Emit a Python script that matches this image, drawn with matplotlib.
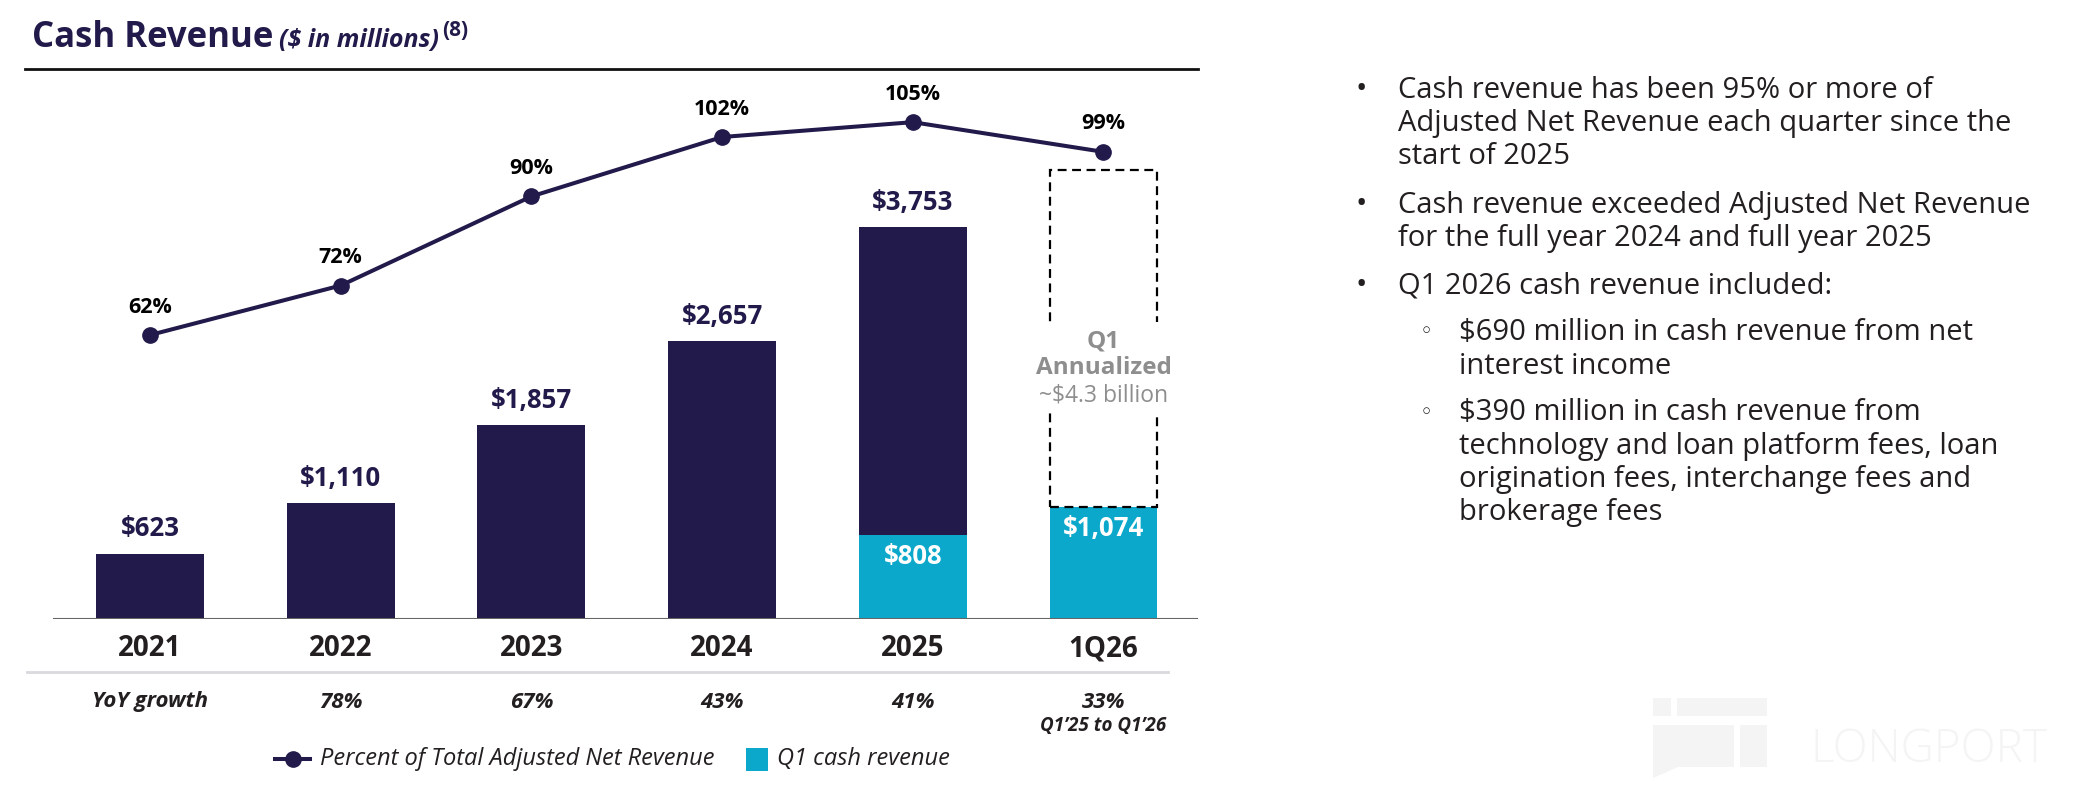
import matplotlib
matplotlib.use('Agg')
import matplotlib.pyplot as plt
from matplotlib.patches import Rectangle, Polygon
from matplotlib.lines import Line2D

plt.rcParams['font.family'] = ['Open Sans', 'DejaVu Sans']

# data
labels = ['2021', '2022', '2023', '2024', '2025', '1Q26']
cash_revenue = [623, 1110, 1857, 2657, 3753]          # full year bars
q1_cash = {4: 808, 5: 1074}                            # cyan part (2025, 1Q26)
q1_annualized = 4296                                   # dashed box top for 1Q26
pct_adj_rev = [62, 72, 90, 102, 105, 99]
yoy_growth = ['YoY growth', '78%', '67%', '43%', '41%', '33%']

navy = '#211A4A'
cyan = '#0BA8CB'
dark = '#231F20'
grey = '#8E8E8E'

W, H = 2084, 794
fig = plt.figure(figsize=(W / 100, H / 100), dpi=100)

def fx(px):
    return px / W

def fy(py):
    return 1 - py / H

# bar axes: baseline at y=619px, top at 69px
ax = fig.add_axes([fx(53), fy(619), fx(1198) - fx(53), fy(69) - fy(619)])
ax.set_xlim(-0.5087, 5.4956)
ax.set_ylim(0, 5266)
ax.axis('off')

x = list(range(len(labels)))
bw = 0.566

for i, v in enumerate(cash_revenue):
    ax.bar(i, v, width=bw, color=navy, zorder=2)
    ax.annotate(f'${v:,}', (i, v), xytext=(0, 25), textcoords='offset pixels',
                ha='center', va='center', fontsize=18.5, fontweight='bold', color=navy)

for i, v in q1_cash.items():
    ax.bar(i, v, width=bw, color=cyan, zorder=3)
    ax.annotate(f'${v:,}', (i, v), xytext=(0, -22), textcoords='offset pixels',
                ha='center', va='center', fontsize=18.5, fontweight='bold', color='white',
                zorder=5)

# dashed annualized box
ax.bar(5, q1_annualized - q1_cash[5], bottom=q1_cash[5], width=bw, fill=False,
       edgecolor='black', linewidth=1.6, linestyle=(0, (4, 2.5)), zorder=4)
ax.add_patch(Rectangle((5 - 0.33, 1982), 0.66, 861, facecolor='white',
                       edgecolor='none', zorder=4.5))
ax.text(5, 2660, 'Q1', ha='center', va='center', fontsize=17.5, fontweight='bold',
        color=grey, zorder=6)
ax.text(5, 2405, 'Annualized', ha='center', va='center', fontsize=17.5,
        fontweight='bold', color=grey, zorder=6)
ax.text(5, 2140, '~$4.3 billion', ha='center', va='center', fontsize=16.5,
        color=grey, zorder=6)

# baseline
ax.axhline(0, color='#666666', linewidth=1.5, zorder=5)

# line on twin axes
ax2 = ax.twinx()
ax2.set_ylim(4.63, 115.74)
ax2.axis('off')
ax2.plot(x, pct_adj_rev, color=navy, linewidth=2.9, marker='o', markersize=11,
         zorder=6)
for i, p in enumerate(pct_adj_rev):
    ax2.annotate(f'{p}%', (i, p), xytext=(0, 28), textcoords='offset pixels',
                 ha='center', va='center', fontsize=15.5, fontweight='bold',
                 color='black')

# x labels and yoy row (blended: data x, figure y)
trans = matplotlib.transforms.blended_transform_factory(ax.transData, fig.transFigure)
for i, lab in enumerate(labels):
    fig.text(i, fy(649), lab, transform=trans, ha='center', va='center',
             fontsize=20, fontweight='bold', color=dark)
for i, g in enumerate(yoy_growth):
    fig.text(i, fy(702), g, transform=trans, ha='center', va='center',
             fontsize=16, fontweight='bold', style='italic', color=dark)
fig.text(5, fy(726), 'Q1\u201925 to Q1\u201926', transform=trans, ha='center',
         va='center', fontsize=13.5, fontweight='bold', style='italic', color=dark)

# separator lines
fig.add_artist(Line2D([fx(25), fx(1198)], [fy(69), fy(69)], color='#111111', linewidth=2))
fig.add_artist(Line2D([fx(27), fx(1168)], [fy(672), fy(672)], color='#D9D9DE', linewidth=2))

# title
r = fig.canvas.get_renderer()
t1 = fig.text(fx(32), fy(47), 'Cash Revenue', fontsize=25, fontweight='bold',
              color=navy, va='baseline')
bb = t1.get_window_extent(r)
t2 = fig.text((bb.x1 + 6) / W, fy(47), '($ in millions)', fontsize=18,
              fontweight='bold', style='italic', color=navy, va='baseline')
bb = t2.get_window_extent(r)
fig.text((bb.x1 + 3) / W, fy(36), '(8)', fontsize=15, fontweight='bold',
         color=navy, va='baseline')

# legend
fig.add_artist(Line2D([fx(275), fx(310)], [fy(759), fy(759)], color=navy,
                      linewidth=2.9))
fig.add_artist(Line2D([fx(292.5)], [fy(759)], color=navy, marker='o', markersize=11))
fig.text(fx(320), fy(759), 'Percent of Total Adjusted Net Revenue', fontsize=17,
         style='italic', color=dark, va='center')
fig.add_artist(Rectangle((fx(746), fy(771)), fx(22), fy(748) - fy(771),
                         facecolor=cyan, edgecolor='none', transform=fig.transFigure))
fig.text(fx(777), fy(759), 'Q1 cash revenue', fontsize=17, style='italic',
         color=dark, va='center')

# right bullet text
bullets = [
    (0, ['Cash revenue has been 95% or more of',
         'Adjusted Net Revenue each quarter since the',
         'start of 2025'], 90),
    (0, ['Cash revenue exceeded Adjusted Net Revenue',
         'for the full year 2024 and full year 2025'], 205),
    (0, ['Q1 2026 cash revenue included:'], 286),
    (1, ['$690 million in cash revenue from net',
         'interest income'], 333),
    (1, ['$390 million in cash revenue from',
         'technology and loan platform fees, loan',
         'origination fees, interchange fees and',
         'brokerage fees'], 413),
]
for level, lines, y0 in bullets:
    if level == 0:
        fig.text(fx(1356), fy(y0), '\u2022', fontsize=22, color=dark, va='center')
        tx = 1398
    else:
        fig.text(fx(1420), fy(y0), '\u25e6', fontsize=16, color=dark, va='center')
        tx = 1459
    for k, line in enumerate(lines):
        fig.text(fx(tx), fy(y0 + k * 33.3), line, fontsize=21, color=dark,
                 va='center')

# faint watermark
wm = '#F4F4F4'
fig.add_artist(Rectangle((fx(1653), fy(716)), fx(18), fy(698) - fy(716),
                         facecolor=wm, edgecolor='none', transform=fig.transFigure))
fig.add_artist(Rectangle((fx(1677), fy(716)), fx(90), fy(698) - fy(716),
                         facecolor=wm, edgecolor='none', transform=fig.transFigure))
fig.add_artist(Polygon([(fx(1653), fy(725)), (fx(1734), fy(725)), (fx(1734), fy(767)),
                        (fx(1678), fy(767)), (fx(1653), fy(778))],
                       facecolor=wm, edgecolor='none', transform=fig.transFigure))
fig.add_artist(Rectangle((fx(1740), fy(767)), fx(27), fy(725) - fy(767),
                         facecolor=wm, edgecolor='none', transform=fig.transFigure))
fig.text(fx(1810), fy(750), 'LONGPORT', fontsize=33, color=wm, va='center',
         fontweight='light')

fig.savefig('out.png', dpi=100)
